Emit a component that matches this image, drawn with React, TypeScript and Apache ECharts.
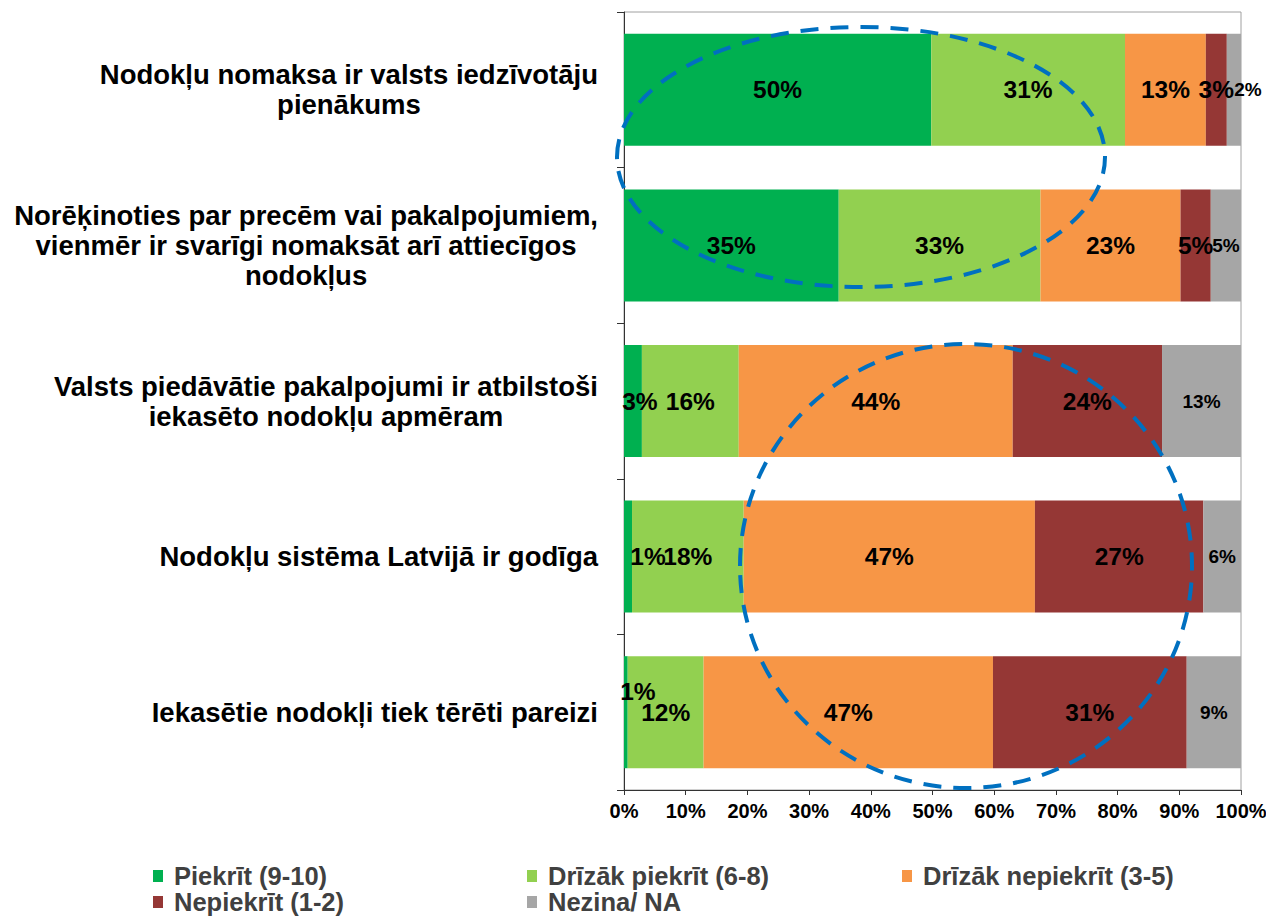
import { useEffect, useRef } from 'react';
import * as echarts from 'echarts';

const categories = [
  'Nodokļu nomaksa ir valsts iedzīvotāju\npienākums',
  'Norēķinoties par precēm vai pakalpojumiem,\nvienmēr ir svarīgi nomaksāt arī attiecīgos\nnodokļus',
  'Valsts piedāvātie pakalpojumi ir atbilstoši\niekasēto nodokļu apmēram',
  'Nodokļu sistēma Latvijā ir godīga',
  'Iekasētie nodokļi tiek tērēti pareizi',
];

const seriesNames = [
  'Piekrīt (9-10)',
  'Drīzāk piekrīt (6-8)',
  'Drīzāk nepiekrīt (3-5)',
  'Nepiekrīt (1-2)',
  'Nezina/ NA',
];

const piekrit = [49.8, 34.8, 2.9, 1.3, 0.6];
const drizakPiekrit = [31.4, 32.7, 15.7, 18.1, 12.3];
const drizakNepiekrit = [13.1, 22.7, 44.4, 47.2, 46.9];
const nepiekrit = [3.4, 4.9, 24.2, 27.3, 31.4];
const nezina = [2.3, 4.9, 12.8, 6.1, 8.8];

const xTickValues = [0, 10, 20, 30, 40, 50, 60, 70, 80, 90, 100];

const colors = ['#00B050', '#92D050', '#F79646', '#953735', '#A6A6A6'];

const FONT = '"Liberation Sans", Arial, Helvetica, sans-serif';

// small label nudges (styling only) for cramped segments
const labelShifts: number[][][] = [
  [[0, 0], [0, 0], [7, 0], [20, 0], [12, -21]],
  [[0, 0], [0, 0], [0, 0], [0, 0], [0, 0]],
  [[0, 0], [0, 0], [0, 0], [0, 0], [0, 0]],
  [[0, 0], [0, 0], [0, 0], [0, 0], [0, 0]],
  [[14, 0], [0, 0], [0, 0], [0, 0], [0, 0]],
];

// legend placement: [left, top] per series (styling)
const legendPos: number[][] = [
  [153, 863],
  [527, 863],
  [902, 863],
  [153, 889],
  [527, 889],
];

export default function App() {
  const ref = useRef<HTMLDivElement>(null);

  useEffect(() => {
    if (!ref.current) return;
    const chart = echarts.init(ref.current, null, { renderer: 'svg' });
    const allValues = [piekrit, drizakPiekrit, drizakNepiekrit, nepiekrit, nezina];

    const series = allValues.map((vals, si) => ({
      name: seriesNames[si],
      type: 'bar',
      stack: 'total',
      barWidth: '72%',
      itemStyle: { color: colors[si] },
      label: {
        show: true,
        position: 'inside',
        color: '#000',
        fontFamily: FONT,
        fontWeight: 'bold',
        fontSize: si === 4 ? 19 : 24.5,
        formatter: (p: any) => Math.round(p.value) + '%',
      },
      data: vals.map((v, i) => ({
        value: v,
        label: { offset: labelShifts[si][i] },
      })),
    }));

    const legends = seriesNames.map((name, si) => ({
      left: legendPos[si][0],
      top: legendPos[si][1],
      padding: 0,
      icon: 'rect',
      itemWidth: 10,
      itemHeight: 12,
      selectedMode: false,
      data: [name],
      textStyle: {
        fontFamily: FONT,
        fontWeight: 'bold',
        fontSize: 25.5,
        lineHeight: 26,
        color: '#404040',
        padding: [0, 0, 0, 6],
      },
    }));

    chart.setOption({
      animation: false,
      backgroundColor: '#ffffff',
      grid: {
        left: 624,
        right: 25,
        top: 12,
        bottom: 128,
        show: true,
        borderColor: '#A0A0A0',
        borderWidth: 1,
        containLabel: false,
        outerBoundsMode: 'none',
      },
      xAxis: {
        type: 'value',
        min: 0,
        max: 100,
        interval: 10,
        axisLine: { show: true, lineStyle: { color: '#333', width: 1 } },
        axisTick: { show: true, length: 5, lineStyle: { color: '#333' } },
        splitLine: { show: false },
        axisLabel: {
          color: '#000',
          fontFamily: FONT,
          fontWeight: 'bold',
          fontSize: 20,
          margin: 11,
          formatter: (v: number) => (xTickValues.includes(v) ? v + '%' : ''),
        },
      },
      yAxis: {
        type: 'category',
        inverse: true,
        data: categories,
        axisLine: { show: true, lineStyle: { color: '#333', width: 1 } },
        axisTick: { show: true, length: 7, lineStyle: { color: '#333' } },
        axisLabel: {
          interval: 0,
          margin: 26,
          align: 'right',
          formatter: (v: string) =>
            v
              .split('\n')
              .map((l) => `{c|${l}}`)
              .join('\n'),
          rich: {
            c: {
              align: 'center',
              fontFamily: FONT,
              fontWeight: 'bold',
              fontSize: 27.5,
              lineHeight: 30,
              color: '#000',
            },
          },
        },
      },
      legend: legends,
      series,
      graphic: [
        {
          type: 'ellipse',
          silent: true,
          z: 100,
          shape: { cx: 861, cy: 157, rx: 244, ry: 130 },
          style: { fill: 'none', stroke: '#0070C0', lineWidth: 4, lineDash: [18, 12] },
        },
        {
          type: 'ellipse',
          silent: true,
          z: 100,
          shape: { cx: 966, cy: 566, rx: 226, ry: 222 },
          style: { fill: 'none', stroke: '#0070C0', lineWidth: 4, lineDash: [18, 12] },
        },
      ],
    });

    return () => chart.dispose();
  }, []);

  return (
    <div
      ref={ref}
      style={{ position: 'absolute', left: 0, top: 0, width: 1266, height: 918 }}
    />
  );
}
